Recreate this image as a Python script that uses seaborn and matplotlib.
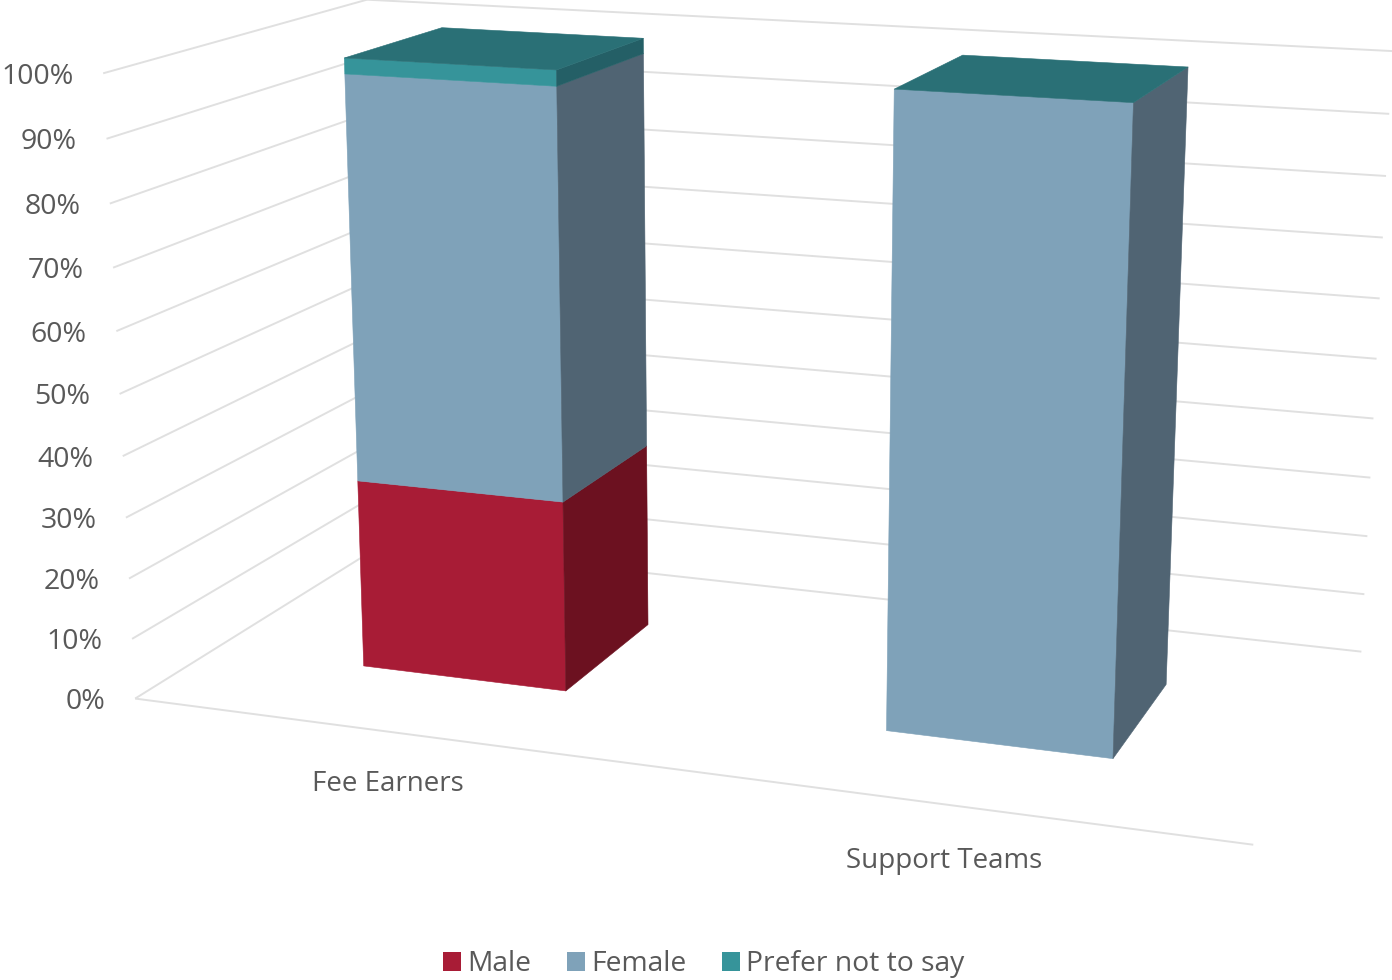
import numpy as np
import matplotlib
matplotlib.use("Agg")
import matplotlib.pyplot as plt
from matplotlib.patches import Patch
from mpl_toolkits.mplot3d.art3d import Poly3DCollection, Line3DCollection
import seaborn as sns

# values
categories = ["Fee Earners", "Support Teams"]
male = [31.5, 0]
female = [66, 100]
prefer = [2.5, 0]
tick_values = [0, 10, 20, 30, 40, 50, 60, 70, 80, 90, 100]
series_names = ["Male", "Female", "Prefer not to say"]

front_colors = ["#A81C36", "#7FA2B9", "#36949A"]
side_colors = ["#6C1120", "#506473", "#245F66"]
top_color = "#2A7076"
grid_color = "#E0E0E0"
text_color = "#595959"

sns.set_theme(style="white")
plt.rcParams["font.family"] = ["Open Sans", "DejaVu Sans"]

# x runs along the front edge, y is depth, z is the percent axis
bar_x = [0.15, 0.65]
bar_w = 0.20
bar_y = 0.30
bar_d = 0.40

# camera calibration: box and bar corners -> reference pixels
calib_world = [
    (0, 0, 0), (0, 0, 100), (0, 1, 100), (1, 0, 0), (1, 1, 0), (1, 1, 100),
    (0.15, 0.3, 0), (0.35, 0.3, 0), (0.35, 0.7, 0),
    (0.65, 0.3, 0), (0.85, 0.3, 0), (0.85, 0.7, 0),
    (0.15, 0.3, 100), (0.35, 0.3, 100), (0.35, 0.7, 100), (0.15, 0.7, 100),
    (0.65, 0.3, 100), (0.85, 0.3, 100), (0.85, 0.7, 100), (0.65, 0.7, 100),
]
calib_pixel = [
    (135, 698), (103, 72), (368, 0), (1253, 845), (1360, 652), (1392, 48),
    (362, 665), (566, 690), (648, 625),
    (886, 730), (1113, 757), (1167, 685),
    (344, 58), (556, 70), (643, 38), (440, 27),
    (894, 90), (1133, 103), (1188, 67), (962, 55),
]


def fit_camera(world, pixel):
    rows, rhs = [], []
    for (x, y, z), (u, v) in zip(world, pixel):
        rows.append([x, y, z, 1, 0, 0, 0, 0, -u * x, -u * y, -u * z])
        rhs.append(u)
        rows.append([0, 0, 0, 0, x, y, z, 1, -v * x, -v * y, -v * z])
        rhs.append(v)
    p = np.linalg.lstsq(np.array(rows, float), np.array(rhs, float), rcond=None)[0]
    return np.append(p, 1).reshape(3, 4)


camera = fit_camera(calib_world, calib_pixel)

fig = plt.figure(figsize=(13.92, 9.8), dpi=100)
ax = fig.add_subplot(projection="3d", computed_zorder=False)
ax.set_position([0, -0.21, 1, 1.42])
ax.set_axis_off()
ax.patch.set_visible(False)


def get_proj():
    flip = np.array([[1, 0, 0], [0, -1, 980], [0, 0, 1]], float)
    view = ax.transData.inverted().get_matrix() @ flip @ camera
    return np.vstack([view[0], view[1], [0, 1, 0, 0], view[2]])


ax.get_proj = get_proj


def label_at(x, y, z, dx, dy, text, ha, size):
    h = camera @ np.array([x, y, z, 1.0])
    u, v = h[0] / h[2] + dx, h[1] / h[2] + dy
    fig.text(u / 1392, 1 - v / 980, text, ha=ha, va="center", fontsize=size, color=text_color)


# gridlines on the side wall and the back wall, plus the front floor edge
segments = [[(0, 0, 0), (1, 0, 0)]]
for tick in tick_values:
    segments.append([(0, 0, tick), (0, 1, tick)])
    segments.append([(0, 1, tick), (1, 1, tick)])
ax.add_collection3d(Line3DCollection(segments, colors=grid_color, linewidths=1.4, zorder=1), autolim=False)


def add_face(verts, color, order):
    face = Poly3DCollection([verts], facecolors=color, edgecolors=color, linewidths=0.4, zorder=order)
    ax.add_collection3d(face, autolim=False)


order = 3
for i in range(len(categories)):
    x0, x1 = bar_x[i], bar_x[i] + bar_w
    y0, y1 = bar_y, bar_y + bar_d
    base = 0
    for values, front, side in zip([male, female, prefer], front_colors, side_colors):
        top = base + values[i]
        if values[i] > 0:
            add_face([(x0, y0, base), (x1, y0, base), (x1, y0, top), (x0, y0, top)], front, order)
            add_face([(x1, y0, base), (x1, y1, base), (x1, y1, top), (x1, y0, top)], side, order)
        base = top
        order += 1
    add_face([(x0, y0, base), (x1, y0, base), (x1, y1, base), (x0, y1, base)], top_color, order)
    order += 1

for tick in tick_values:
    label_at(0, 0, tick, -29.5, 3.5, f"{tick}%", "right", 20.5)

cat_shift = [(-3, 52), (-4, 56)]
for i, name in enumerate(categories):
    label_at(bar_x[i] + bar_w / 2, 0, 0, cat_shift[i][0], cat_shift[i][1], name, "center", 20)

handles = [Patch(facecolor=c, edgecolor="none", label=n) for c, n in zip(front_colors, series_names)]
fig.legend(handles=handles, ncol=3, loc="lower center", bbox_to_anchor=(0.5055, -0.021), frameon=False,
           fontsize=20.3, labelcolor=text_color, handlelength=0.65, handleheight=0.65,
           handletextpad=0.22, columnspacing=1.25, borderpad=0.3)

fig.savefig("out.png", dpi=100)
